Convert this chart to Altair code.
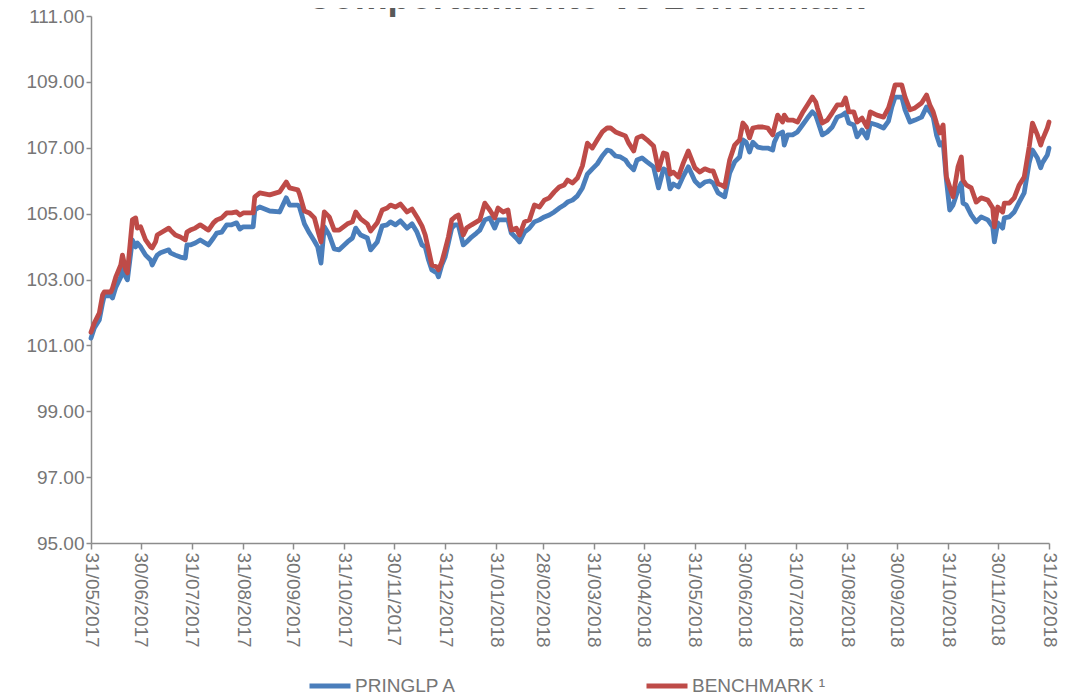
import altair as alt
import pandas as pd

# ---- data ----
series_names = ["PRINGLP A", "BENCHMARK \u00b9"]
series_colors = ["#4A7EBB", "#BE4B48"]
start_date = "2017-05-31"

# days since 31/05/2017
days = [0, 2, 5, 7, 8, 12, 13, 15, 18, 19,
        21, 22, 25, 27, 28, 30, 33, 36, 37, 39,
        40, 42, 47, 48, 51, 54, 57, 58, 60, 63,
        66, 69, 71, 74, 76, 79, 82, 85, 88, 90,
        92, 95, 98, 99, 102, 108, 114, 118, 120, 125,
        126, 129, 132, 135, 137, 139, 141, 144, 147, 150,
        155, 158, 160, 163, 167, 169, 173, 176, 179, 181,
        184, 187, 191, 194, 197, 200, 202, 204, 206, 209,
        210, 212, 214, 216, 218, 220, 222, 225, 227, 230,
        233, 235, 238, 241, 244, 246, 249, 252, 254, 257,
        259, 262, 265, 268, 271, 274, 277, 280, 283, 286,
        288, 291, 294, 297, 300, 303, 306, 309, 312, 314,
        317, 320, 323, 325, 328, 330, 333, 336, 340, 343,
        346, 348, 350, 352, 355, 358, 361, 365, 368, 371,
        374, 376, 379, 381, 383, 386, 389, 392, 394, 396,
        398, 400, 403, 406, 409, 412, 413, 415, 418, 419,
        421, 424, 427, 430, 433, 436, 438, 439, 442, 445,
        448, 451, 454, 456, 458, 461, 463, 466, 469, 471,
        475, 479, 482, 484, 486, 490, 492, 495, 498, 502,
        505, 507, 509, 511, 513, 515, 517, 519, 521, 524,
        526, 527, 529, 532, 535, 538, 542, 545, 546, 548,
        551, 552, 555, 558, 561, 564, 567, 569, 572, 574,
        575, 578, 579]

benchmark = [101.40, 101.68, 101.98, 102.53, 102.62, 102.62, 102.74, 103.08, 103.44, 103.74,
             103.29, 103.20, 104.81, 104.87, 104.56, 104.60, 104.20, 103.99, 103.96, 104.14,
             104.35, 104.41, 104.56, 104.50, 104.35, 104.29, 104.20, 104.44, 104.50, 104.56,
             104.66, 104.56, 104.50, 104.72, 104.81, 104.87, 105.02, 105.02, 105.05, 104.96,
             105.02, 105.02, 105.02, 105.51, 105.63, 105.57, 105.66, 105.96, 105.78, 105.72,
             105.60, 105.08, 105.02, 104.87, 104.50, 104.14, 105.05, 104.90, 104.50, 104.50,
             104.69, 104.75, 105.05, 104.84, 104.69, 104.47, 104.72, 105.11, 105.17, 105.26,
             105.20, 105.29, 105.05, 105.14, 104.90, 104.63, 104.35, 103.90, 103.44, 103.38,
             103.29, 103.53, 103.90, 104.29, 104.81, 104.90, 104.96, 104.35, 104.56, 104.66,
             104.75, 104.81, 105.32, 105.11, 104.87, 105.17, 105.05, 105.11, 104.50, 104.56,
             104.35, 104.75, 104.81, 105.26, 105.20, 105.41, 105.48, 105.66, 105.81, 105.87,
             106.02, 105.93, 106.08, 106.45, 107.14, 106.99, 107.24, 107.48, 107.60, 107.60,
             107.48, 107.42, 107.36, 107.14, 106.90, 107.30, 107.36, 107.24, 107.05, 106.33,
             106.84, 106.81, 106.20, 106.26, 106.11, 106.54, 106.90, 106.39, 106.26, 106.36,
             106.30, 106.30, 105.90, 105.87, 105.81, 106.63, 107.08, 107.24, 107.75, 107.63,
             107.30, 107.60, 107.63, 107.63, 107.60, 107.39, 107.60, 107.99, 107.78, 107.99,
             107.84, 107.84, 107.78, 108.06, 108.30, 108.54, 108.39, 108.21, 107.75, 107.84,
             108.06, 108.30, 108.30, 108.51, 108.09, 108.09, 107.78, 107.90, 107.63, 108.09,
             107.99, 107.93, 108.21, 108.54, 108.91, 108.91, 108.54, 108.15, 108.21, 108.36,
             108.60, 108.30, 108.09, 107.75, 107.45, 107.69, 106.11, 105.81, 105.51, 106.42,
             106.72, 106.02, 105.87, 105.78, 105.35, 105.48, 105.41, 105.17, 104.60, 105.20,
             105.05, 105.32, 105.32, 105.48, 105.87, 106.11, 107.02, 107.75, 107.39, 107.08,
             107.24, 107.60, 107.78]

pringlp = [101.22, 101.53, 101.77, 102.29, 102.50, 102.50, 102.44, 102.77, 103.08, 103.35,
           103.08, 102.99, 104.20, 103.99, 104.11, 103.99, 103.74, 103.59, 103.44, 103.65,
           103.74, 103.81, 103.90, 103.81, 103.74, 103.68, 103.65, 104.05, 104.05, 104.11,
           104.20, 104.11, 104.05, 104.26, 104.41, 104.44, 104.66, 104.66, 104.72, 104.53,
           104.60, 104.60, 104.60, 105.11, 105.20, 105.08, 105.05, 105.48, 105.26, 105.26,
           105.20, 104.69, 104.41, 104.17, 103.99, 103.50, 104.60, 104.35, 103.93, 103.90,
           104.14, 104.26, 104.56, 104.35, 104.26, 103.90, 104.14, 104.63, 104.66, 104.75,
           104.66, 104.78, 104.56, 104.69, 104.44, 104.05, 103.99, 103.59, 103.29, 103.20,
           103.08, 103.44, 103.68, 104.11, 104.56, 104.66, 104.66, 104.05, 104.14, 104.29,
           104.41, 104.50, 104.81, 104.87, 104.56, 104.81, 104.81, 104.81, 104.41, 104.26,
           104.14, 104.44, 104.56, 104.75, 104.81, 104.90, 104.96, 105.05, 105.17, 105.26,
           105.35, 105.41, 105.54, 105.78, 106.20, 106.36, 106.51, 106.75, 106.93, 106.90,
           106.75, 106.72, 106.63, 106.48, 106.33, 106.63, 106.69, 106.57, 106.42, 105.78,
           106.36, 106.30, 105.75, 105.90, 105.81, 106.14, 106.42, 105.99, 105.84, 105.96,
           105.99, 105.93, 105.63, 105.57, 105.51, 106.23, 106.57, 106.72, 107.24, 107.17,
           106.87, 107.17, 107.02, 106.99, 106.99, 106.93, 107.17, 107.39, 107.48, 107.08,
           107.39, 107.39, 107.48, 107.69, 107.90, 108.09, 107.99, 107.84, 107.39, 107.48,
           107.63, 107.93, 107.99, 108.06, 107.75, 107.69, 107.33, 107.54, 107.30, 107.75,
           107.69, 107.60, 107.81, 108.24, 108.54, 108.54, 108.15, 107.78, 107.84, 107.93,
           108.24, 108.09, 107.93, 107.39, 107.08, 107.17, 106.02, 105.11, 105.26, 105.72,
           105.93, 105.32, 105.26, 104.96, 104.75, 104.90, 104.81, 104.60, 104.14, 104.72,
           104.56, 104.87, 104.90, 105.05, 105.35, 105.63, 106.54, 106.93, 106.69, 106.39,
           106.54, 106.78, 106.99]

x_tick_dates = ["2017-05-31", "2017-06-30", "2017-07-31", "2017-08-31", "2017-09-30",
                "2017-10-31", "2017-11-30", "2017-12-31", "2018-01-31", "2018-02-28",
                "2018-03-31", "2018-04-30", "2018-05-31", "2018-06-30", "2018-07-31",
                "2018-08-31", "2018-09-30", "2018-10-31", "2018-11-30", "2018-12-31"]
y_ticks = [95, 97, 99, 101, 103, 105, 107, 109, 111]

# ---- table ----
dates = pd.Timestamp(start_date) + pd.to_timedelta(days, unit="D")
df = pd.concat([
    pd.DataFrame({"fecha": dates, "valor": pringlp, "serie": series_names[0]}),
    pd.DataFrame({"fecha": dates, "valor": benchmark, "serie": series_names[1]}),
], ignore_index=True)


def dt(s):
    y, m, d = (int(p) for p in s.split("-"))
    return alt.DateTime(year=y, month=m, date=d)


FONT = "Liberation Sans"
TXT = "#767676"
AX = "#8c8c8c"

chart = alt.Chart(df).mark_line(strokeWidth=4.8, strokeJoin="round", strokeCap="round").encode(
    x=alt.X("fecha:T",
            scale=alt.Scale(domain=[dt(x_tick_dates[0]), dt(x_tick_dates[-1])], nice=False),
            axis=alt.Axis(values=[dt(s) for s in x_tick_dates], format="%d/%m/%Y",
                          labelAngle=90, title=None, tickSize=6, labelPadding=3,
                          labelOverlap=False, labelFlush=False, labelBound=False)),
    y=alt.Y("valor:Q",
            scale=alt.Scale(domain=[95, 111], nice=False, zero=False),
            axis=alt.Axis(values=y_ticks, format=".2f", title=None, tickSize=5,
                          labelPadding=2, labelFlush=False, labelOverlap=False)),
    color=alt.Color("serie:N",
                    scale=alt.Scale(domain=series_names, range=series_colors),
                    legend=alt.Legend(orient="none", legendX=216, legendY=647,
                                      direction="horizontal", title=None,
                                      symbolType="stroke", symbolSize=1681,
                                      symbolStrokeWidth=5, labelFontSize=19,
                                      labelFont=FONT, labelColor=TXT, labelOffset=2,
                                      columnPadding=179, padding=0)),
).properties(
    width=958,
    height=527,
    title=alt.TitleParams("Comportamiento vs Benchmark", font=FONT, fontSize=37,
                          fontWeight="bold", color="#595959", anchor="middle",
                          dx=15, dy=10, offset=0),
    autosize=alt.AutoSizeParams(type="none"),
    padding={"left": 83, "top": 8, "right": 9, "bottom": 154},
    background="white",
).configure_view(stroke=None).configure_axis(
    grid=False, domainColor=AX, tickColor=AX, domainWidth=1.5, tickWidth=1.5,
    labelColor=TXT, labelFont=FONT, labelFontSize=19,
)

chart.save("out.html", embed_options={"renderer": "svg", "actions": False})
